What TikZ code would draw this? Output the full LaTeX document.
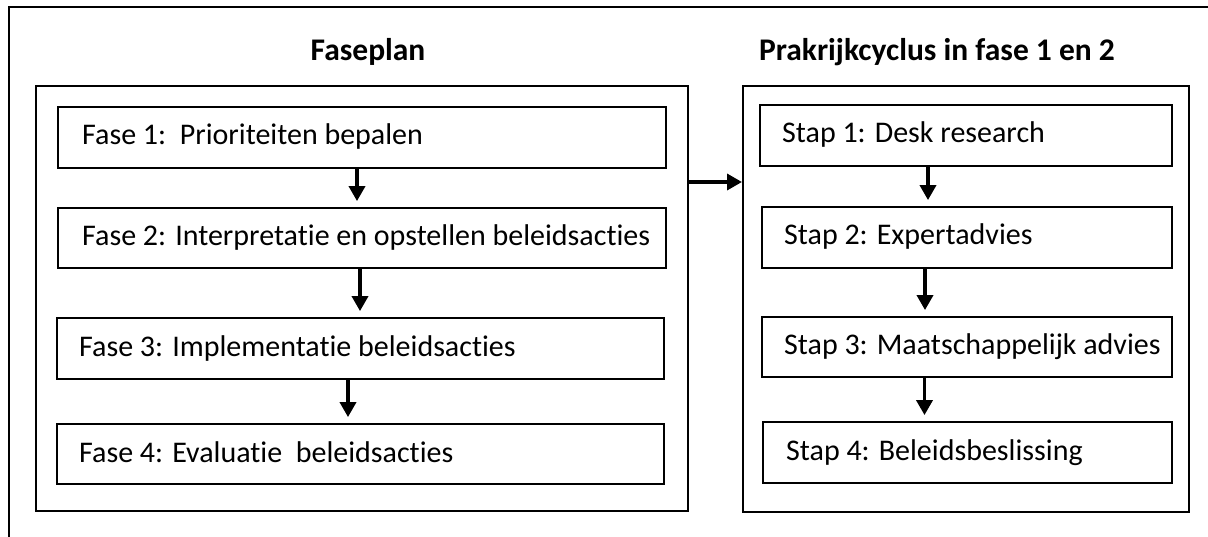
\documentclass[tikz,border=0pt]{standalone}
\usepackage{fontspec}
\setmainfont[Ligatures=NoCommon]{Carlito}
\usetikzlibrary{arrows.meta}
\begin{document}
\begin{tikzpicture}[x=1pt,y=-1pt,
  frame/.style={draw,line width=2pt,inner sep=0pt},
  inbox/.style={draw,line width=1.8pt,inner sep=0pt},
  lbl/.style={font=\fontsize{30}{32}\selectfont, anchor=base west, inner sep=0pt},
  ttl/.style={font=\bfseries\fontsize{31.5}{33}\selectfont, anchor=base, inner sep=0pt},
  arr/.style={line width=3.5pt, -{Triangle[width=16pt,length=15pt]}}]
\useasboundingbox (0,0) rectangle (1208,537);
\draw[line width=2pt] (9,537) -- (9,7) -- (1208,7);
% titles
\node[ttl] (t1) at (368,61) {Faseplan};
\node[ttl] (t2) at (937,61) {Prakrijkcyclus in fase 1 en 2};
% panels
\node[frame, minimum width=652pt, minimum height=425pt] (L) at (362,298.5) {};
\node[frame, minimum width=446pt, minimum height=426pt] (R) at (966,299) {};
% left boxes
\node[inbox, minimum width=608pt, minimum height=61pt] (f1) at (362,137.5) {};
\node[inbox, minimum width=608pt, minimum height=60pt] (f2) at (362,238) {};
\node[inbox, minimum width=607pt, minimum height=61pt] (f3) at (360.5,348.5) {};
\node[inbox, minimum width=607pt, minimum height=60pt] (f4) at (360.5,454) {};
\node[lbl] (lf1) at (82,145) {Fase 1:\ \ Prioriteiten bepalen};
\node[lbl] (lf2) at (82,246) {Fase 2: Interpretatie en opstellen beleidsacties};
\node[lbl] (lf3) at (79,356) {Fase 3: Implementatie beleidsacties};
\node[lbl] (lf4) at (79,462) {Fase 4: Evaluatie\ \ beleidsacties};
% right boxes
\node[inbox, minimum width=412pt, minimum height=61pt] (s1) at (966,135.5) {};
\node[inbox, minimum width=410pt, minimum height=61pt] (s2) at (967,237.5) {};
\node[inbox, minimum width=410pt, minimum height=60pt] (s3) at (967,347) {};
\node[inbox, minimum width=409pt, minimum height=61pt] (s4) at (967.5,452.5) {};
\node[lbl] (ls1) at (782,143) {Stap 1: Desk research};
\node[lbl] (ls2) at (784,245) {Stap 2: Expertadvies};
\node[lbl] (ls3) at (784,355) {Stap 3: Maatschappelijk advies};
\node[lbl] (ls4) at (786,460) {Stap 4: Beleidsbeslissing};
% arrows
\draw[arr, shorten >=6pt] ([xshift=-5pt]f1.south) -- ([xshift=-5pt]f1.south |- f2.north);
\draw[arr, shorten >=6pt] ([xshift=-2pt]f2.south) -- ([xshift=-2pt]f2.south |- f3.north);
\draw[arr, shorten >=6pt] ([xshift=-12.5pt]f3.south) -- ([xshift=-12.5pt]f3.south |- f4.north);
\draw[arr, shorten >=6pt] ([xshift=-38pt]s1.south) -- ([xshift=-38pt]s1.south |- s2.north);
\draw[arr, shorten >=6pt] ([xshift=-42pt]s2.south) -- ([xshift=-42pt]s2.south |- s3.north);
\draw[arr, shorten >=6pt] ([xshift=-42.5pt]s3.south) -- ([xshift=-42.5pt]s3.south |- s4.north);
\draw[arr] ([yshift=116.5pt]L.east) -- ([yshift=116.5pt]L.east -| R.west);
\end{tikzpicture}
\end{document}
